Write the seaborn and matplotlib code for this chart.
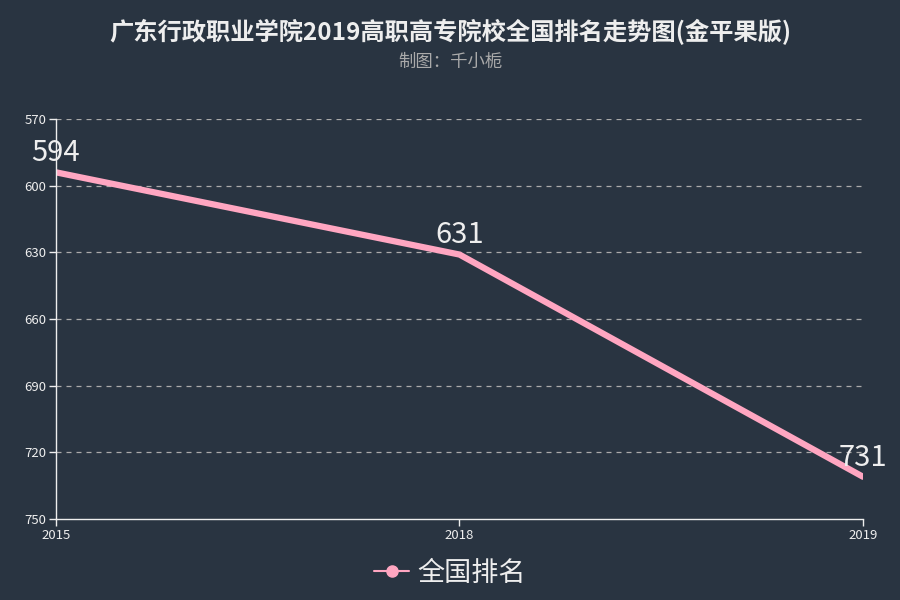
import matplotlib
matplotlib.use("Agg")
import matplotlib.pyplot as plt
import seaborn as sns
import pandas as pd
from matplotlib.lines import Line2D

years = ['2015', '2018', '2019']
ranks = [594, 631, 731]
yticks = [570, 600, 630, 660, 690, 720, 750]

bg = '#293441'
pink = '#FFA6C1'

sns.set_theme(style='dark')
plt.rcParams['font.family'] = ['Noto Sans CJK SC', 'DejaVu Sans']

df = pd.DataFrame({'year': years, 'rank': ranks})

fig = plt.figure(figsize=(9, 6), dpi=100, facecolor=bg)
ax = fig.add_axes([56 / 900, 1 - 519 / 600, (863 - 56) / 900, 400 / 600])
ax.set_facecolor(bg)

sns.lineplot(data=df, x='year', y='rank', ax=ax, color=pink, linewidth=4.5,
             sort=False, solid_capstyle='round')

ax.set_xlim(0, len(years) - 1)
ax.set_ylim(750, 570)
ax.set_yticks(yticks)
ax.set_xticks(range(len(years)))
ax.set_xticklabels(years)
ax.set_xlabel('')
ax.set_ylabel('')

ax.grid(False)
for v in yticks[:-1]:
    ax.axhline(v, color='#aaaaaa', linestyle=(0, (4, 4)), linewidth=0.9, zorder=0)

for s in ['top', 'right']:
    ax.spines[s].set_visible(False)
for s in ['left', 'bottom']:
    ax.spines[s].set_color('#eeeeee')
    ax.spines[s].set_linewidth(1)

ax.tick_params(axis='both', colors='#eeeeee', labelcolor='#eeeeee', labelsize=9.5,
               length=5, width=1, direction='out', bottom=True, left=True, pad=2)

for i, r in enumerate(ranks):
    ax.annotate(str(r), (i, r), xytext=(0, 3), textcoords='offset points',
                ha='center', va='bottom', fontsize=21, color='#eeeeee')

fig.text(0.5, 1 - 32 / 600, '广东行政职业学院2019高职高专院校全国排名走势图(金平果版)',
         ha='center', va='center', fontsize=17.5, fontweight='bold', color='#eeeeee')
fig.text(0.5, 1 - 62 / 600, '制图：千小栀', ha='center', va='center',
         fontsize=12.5, color='#aaaaaa')

handle = Line2D([], [], color=pink, marker='o', markersize=8, linewidth=1.5)
fig.legend([handle], ['全国排名'], loc='center', bbox_to_anchor=(0.5, 1 - 573 / 600),
           frameon=False, fontsize=19.5, labelcolor='#eeeeee', handlelength=1.3,
           handletextpad=0.3)

fig.savefig('out.png', dpi=100, facecolor=bg)
